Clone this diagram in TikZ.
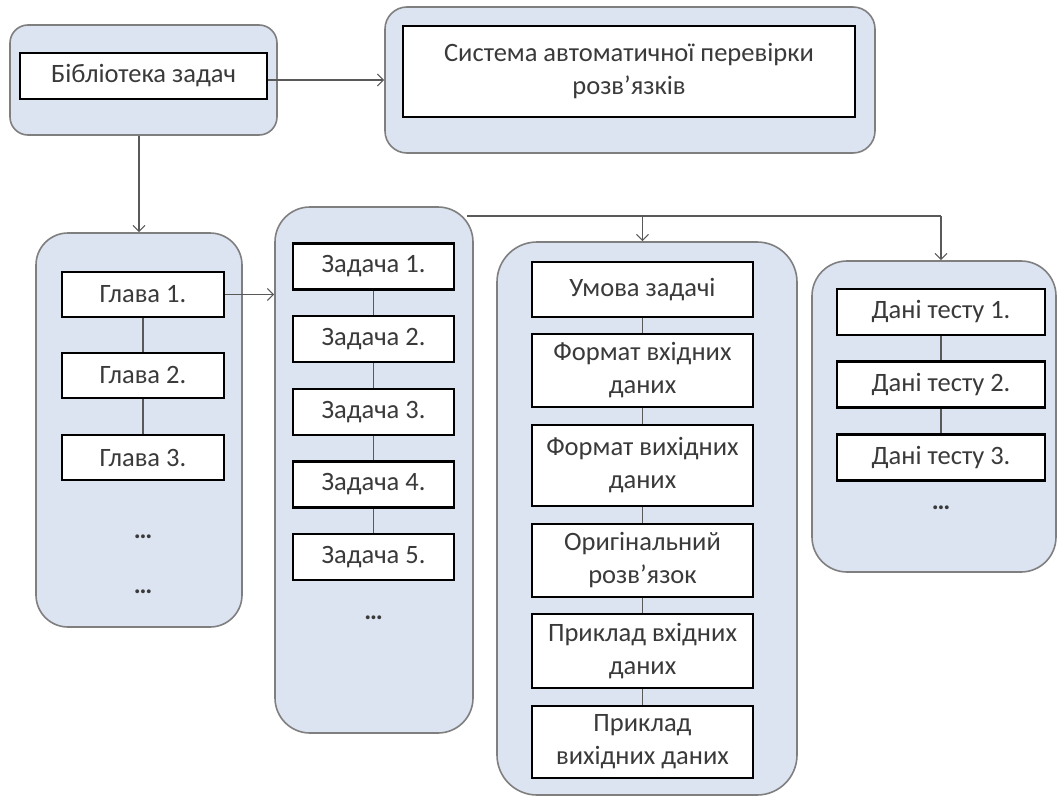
\documentclass[tikz,border=0pt]{standalone}
\usepackage{fontspec}
\setmainfont{Carlito}
\usetikzlibrary{arrows.meta}
\definecolor{contfill}{HTML}{DCE3F1}
\definecolor{contline}{HTML}{7F7F7F}
\definecolor{txt}{HTML}{3A3A3A}
\definecolor{conncol}{HTML}{595959}
\tikzset{
 cont/.style={draw=contline, fill=contfill, line width=1.6pt, inner sep=0pt},
 box/.style={draw=black, fill=white, line width=2.8pt, inner sep=0pt, align=center, text=txt, font=\fontsize{26.5}{33}\selectfont},
 conn/.style={draw=conncol, line width=1.1pt},
 arr/.style={conn, -{Straight Barb[length=6pt,width=12pt]}},
 dotsnode/.style={text=txt, inner sep=0pt, font=\fontsize{26}{30}\selectfont\bfseries}
}
\begin{document}
\begin{tikzpicture}[x=1pt,y=-1pt]
\useasboundingbox (0,0) rectangle (1058,798);
% containers
\node[cont, rounded corners=18pt, minimum width=267pt, minimum height=110pt] (c0) at (143.5,80) {};
\node[cont, rounded corners=22pt, minimum width=490pt, minimum height=146pt] (c1) at (630,80) {};
\node[cont, rounded corners=32pt, minimum width=206pt, minimum height=394pt] (c2) at (139,430) {};
\node[cont, rounded corners=35pt, minimum width=198pt, minimum height=526pt] (c3) at (374,470) {};
\node[cont, rounded corners=40pt, minimum width=300pt, minimum height=553pt] (c4) at (647,518.5) {};
\node[cont, rounded corners=35pt, minimum width=244pt, minimum height=311pt] (c5) at (934,416.5) {};
% top boxes
\node[box, minimum width=247pt, minimum height=46pt] (lib) at (143.5,76) {Бібліотека задач};
\node[box, minimum width=452pt, minimum height=91pt] (sys) at (629,71.5) {Система автоматичної перевірки\\розв’язків};
% chapters
\node[box, minimum width=162pt, minimum height=45pt] (g1) at (143,294.5) {Глава 1.};
\node[box, minimum width=162pt, minimum height=45pt] (g2) at (143,375.5) {Глава 2.};
\node[box, minimum width=162pt, minimum height=45pt] (g3) at (143,457.5) {Глава 3.};
\node[dotsnode] (gd1) at (143,537) {…};
\node[dotsnode] (gd2) at (143,592) {…};
% tasks
\node[box, minimum width=161pt, minimum height=46pt] (z1) at (373.5,266.5) {Задача 1.};
\node[box, minimum width=161pt, minimum height=46pt] (z2) at (373.5,339) {Задача 2.};
\node[box, minimum width=161pt, minimum height=46pt] (z3) at (373.5,412) {Задача 3.};
\node[box, minimum width=161pt, minimum height=46pt] (z4) at (373.5,484.5) {Задача 4.};
\node[box, minimum width=161pt, minimum height=46pt] (z5) at (373.5,557) {Задача 5.};
\node[dotsnode] (zd) at (373.5,618) {…};
% task parts
\node[box, minimum width=221pt, minimum height=55pt] (m1) at (642.5,289.5) {Умова задачі};
\node[box, minimum width=221pt, minimum height=73pt] (m2) at (642.5,370.5) {Формат вхідних\\даних};
\node[box, minimum width=221pt, minimum height=81pt] (m3) at (642.5,465.5) {Формат вихідних\\даних};
\node[box, minimum width=221pt, minimum height=73pt] (m4) at (642.5,560.5) {Оригінальний\\розв’язок};
\node[box, minimum width=221pt, minimum height=74pt] (m5) at (642.5,651) {Приклад вхідних\\даних};
\node[box, minimum width=221pt, minimum height=72pt] (m6) at (642.5,742) {Приклад\\вихідних даних};
% tests
\node[box, minimum width=208pt, minimum height=46pt] (t1) at (941,312) {Дані тесту 1.};
\node[box, minimum width=208pt, minimum height=46pt] (t2) at (941,384.5) {Дані тесту 2.};
\node[box, minimum width=208pt, minimum height=46pt] (t3) at (941,457.5) {Дані тесту 3.};
\node[dotsnode] (td) at (941,508) {…};
% connectors
\draw[arr] (lib.east |- c1.west) -- (c1.west);
\draw[arr] (c0.south -| c2.north) -- (c2.north);
\draw[arr] (g1.east) -- (g1.east -| c3.west);
\coordinate (j) at (467,216);
\draw[conn] (j) -- (j -| t1.north);
\draw[arr] (j -| m1.north) -- (m1.north |- c4.north);
\draw[arr] (j -| t1.north) -- (t1.north |- c5.north);
\draw[conn] (g1.south) -- (g2.north) (g2.south) -- (g3.north);
\draw[conn] (z1.south) -- (z2.north) (z2.south) -- (z3.north) (z3.south) -- (z4.north) (z4.south) -- (z5.north);
\draw[conn] (m1.south) -- (m2.north) (m2.south) -- (m3.north) (m3.south) -- (m4.north) (m4.south) -- (m5.north) (m5.south) -- (m6.north);
\draw[conn] (t1.south) -- (t2.north) (t2.south) -- (t3.north);
\end{tikzpicture}
\end{document}
